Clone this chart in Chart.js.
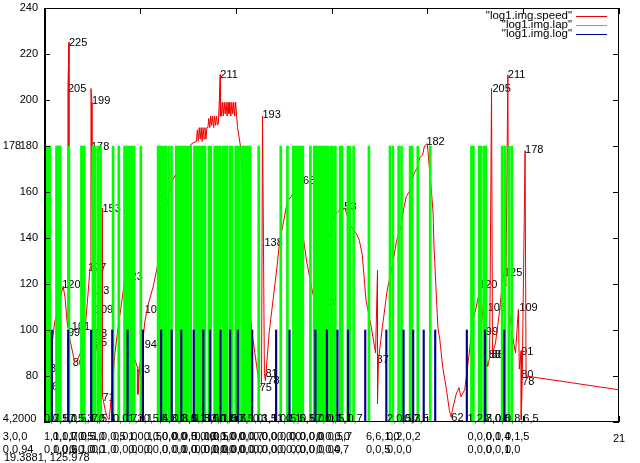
<!DOCTYPE html>
<html>
<head>
<meta charset="utf-8">
<script src="https://cdn.jsdelivr.net/npm/chart.js@4.4.1/dist/chart.umd.min.js"></script>
<style>
  html, body { margin: 0; padding: 0; background: #fff; }
  #wrap { width: 640px; height: 463px; }
</style>
</head>
<body>
<div id="wrap"><canvas id="chart" width="640" height="463"></canvas></div>
<script>
// ===== data =====
const seriesNames = ['"log1.img.speed"', '"log1.img.lap"', '"log1.img.log"'];

// speed trace (x, speed)
const speedX = [
  15.04, 15.07, 15.09, 15.11, 15.15, 15.17, 15.20, 15.22, 15.24, 15.25, 15.25, 15.26, 15.26, 15.27,
  15.30, 15.32, 15.35, 15.38, 15.43, 15.46, 15.48, 15.49, 15.50, 15.50, 15.51, 15.52, 15.53, 15.54,
  15.55, 15.58, 15.60, 15.61, 15.61, 15.64, 15.66, 15.68, 15.70, 15.72, 15.74, 15.77, 15.81, 15.84,
  15.88, 15.92, 15.95, 15.98, 15.98, 16.00, 16.02, 16.05, 16.08, 16.14, 16.18, 16.21, 16.26, 16.29,
  16.34, 16.40, 16.44, 16.49, 16.54,
  16.59, 16.60, 16.61, 16.62, 16.63, 16.64, 16.65, 16.66, 16.67, 16.68, 16.69, 16.70,
  16.71, 16.72, 16.73, 16.74, 16.75, 16.76, 16.77, 16.78, 16.79, 16.80, 16.81,
  16.82, 16.84, 16.84,
  16.85, 16.86, 16.87, 16.88, 16.89, 16.90, 16.91, 16.92, 16.93, 16.94, 16.95, 16.96, 16.97, 16.98,
  16.99, 17.00, 17.01,
  17.02, 17.05, 17.09, 17.13, 17.17, 17.22, 17.25, 17.27, 17.28, 17.29, 17.30, 17.31, 17.35, 17.39,
  17.43, 17.46, 17.49, 17.54, 17.58, 17.63, 17.67, 17.70, 17.74, 17.79, 17.82, 17.88, 17.91, 17.96,
  18.03, 18.08, 18.14, 18.19, 18.22, 18.26, 18.29, 18.32, 18.36, 18.42, 18.46, 18.48, 18.48, 18.49,
  18.53, 18.58, 18.64, 18.68, 18.73, 18.75, 18.78, 18.81, 18.83, 18.86, 18.90, 18.92, 18.95, 18.97,
  19.00, 19.02, 19.04, 19.06, 19.07, 19.11, 19.13, 19.16, 19.20, 19.23, 19.25, 19.26, 19.30, 19.33,
  19.35, 19.39, 19.42, 19.44, 19.47, 19.51, 19.54, 19.56, 19.57, 19.61, 19.63, 19.65, 19.67, 19.68,
  19.71, 19.75, 19.78, 19.80, 19.82, 19.84, 19.85, 19.89, 19.92, 19.95, 19.96, 19.98, 19.98, 19.99,
  20.02, 20.03, 21.00
];
const speedY = [
  78, 88, 96, 103, 110, 114, 119, 114, 104, 101, 205, 225, 100, 96,
  90, 86, 87, 90, 101, 116, 127, 205, 199, 178, 117, 109, 98, 95,
  92, 86, 72, 153, 71, 65, 62, 61, 70, 79, 90, 100, 112, 121,
  118, 97, 87, 83, 72, 85, 90, 103, 110, 119, 127, 136, 148, 156,
  165, 170, 173, 177, 181,
  182, 187, 182, 188, 183, 188, 182, 188, 183, 188, 183, 188,
  188, 192, 188, 193, 189, 193, 188, 193, 189, 193, 189,
  190, 211, 193,
  193, 199, 193, 199, 194, 199, 193, 199, 194, 199, 193, 199, 194, 199,
  193, 199, 193,
  188, 180, 150, 117, 99, 84, 75, 76, 193, 138, 81, 78, 99, 113,
  127, 139, 145, 156, 158, 163, 165, 142, 130, 119, 113, 119, 129, 138,
  150, 152, 153, 146, 144, 142, 139, 133, 113, 100, 90, 126, 68, 87,
  101, 117, 129, 139, 146, 152, 158, 160, 163, 168, 171, 175, 176, 180,
  181, 171, 162, 151, 136, 101, 96, 84, 74, 65, 62, 65, 72, 75,
  71, 74, 84, 91, 103, 110, 116, 117, 110, 90, 84, 88, 205, 90,
  94, 107, 119, 125, 119, 211, 110, 97, 90, 109, 83, 91, 61, 78,
  178, 80, 74
];

// value labels printed next to the speed trace
const speedTagX = [
  15.00, 15.02, 15.19, 15.26, 15.25, 15.25, 15.29, 15.30, 15.46, 15.50, 15.49, 15.50, 15.53, 15.53,
  15.53, 15.61, 15.61, 15.84, 15.98, 16.05, 16.05, 16.84, 17.28, 17.30, 17.25, 17.31, 17.33, 17.64,
  17.85, 18.07, 18.47, 18.99, 19.25, 19.54, 19.68, 19.63, 19.61, 19.64, 19.67, 19.80, 19.84, 19.96,
  19.98, 19.98, 19.99, 20.02, 14.57
];
const speedTagY = [
  83, 75.3, 119.6, 225, 205, 98.7, 101.3, 85.7, 127, 199.7, 179.5, 117, 108.7, 98.3,
  94.3, 152.6, 70.4, 123, 82.6, 93.5, 108.7, 211, 193.5, 138, 74.8, 81, 78, 165,
  111.7, 153.5, 87, 181.7, 61.7, 119.6, 205, 109.5, 99, 89, 89, 125, 211, 109.5,
  90.4, 80.4, 77.4, 178.3, 180
];
const speedTagText = [
  '73', '76', '120', '225', '205', '99', '101', '86', '127', '199', '178', '113', '109', '98',
  '95', '153', '71', '123', '83', '94', '103', '211', '193', '138', '75', '81', '78', '165',
  '113', '153', '87', '182', '62', '120', '205', '105', '99', '88', '88', '125', '211', '109',
  '91', '80', '78', '178', '178'
];

// lap marks (impulses up to lapValue)
const lapValue = 180;
const lapX = [
  15.01, 15.03, 15.05, 15.12, 15.13, 15.15, 15.16, 15.25, 15.38, 15.39, 15.41,
  15.50, 15.52, 15.55, 15.58, 15.71, 15.77,
  15.83, 15.85, 15.87, 15.89, 15.91, 15.93, 16.00,
  16.18, 16.20, 16.22, 16.24, 16.26, 16.29, 16.32,
  16.37, 16.39, 16.41, 16.43, 16.45, 16.47, 16.49, 16.52,
  16.56, 16.58, 16.60, 16.62, 16.64, 16.66, 16.67, 16.71, 16.73,
  16.77, 16.79, 16.81, 16.83, 16.86, 16.88, 16.90,
  16.93, 16.95, 16.99, 17.01, 17.03, 17.06, 17.08, 17.10, 17.12, 17.14,
  17.23, 17.46, 17.53,
  17.59, 17.61, 17.63, 17.65, 17.67, 17.69, 17.77,
  17.81, 17.83, 17.85, 17.87, 17.89, 17.91, 17.93, 17.95,
  17.98, 18.00, 18.03, 18.08, 18.10, 18.16, 18.18, 18.22, 18.38,
  18.60, 18.63, 18.69, 18.72, 18.81, 18.83, 18.89, 19.02,
  19.45, 19.47, 19.53, 19.55, 19.58, 19.60, 19.77, 19.80, 19.84, 19.87
];

// log marks (impulses up to logValue)
const logValue = 100;
const logX = [
  15.09, 15.26, 15.50, 15.72, 15.88, 16.04, 16.23, 16.34, 16.44, 16.57, 16.67, 16.74, 16.85, 16.95,
  17.03, 17.18, 17.43, 17.57, 17.84, 17.96, 18.07, 18.18, 18.36, 18.58, 18.76, 18.86, 18.97, 19.09,
  19.42, 19.61, 19.81
];

// text tags along the bottom edge (three rows)
const tagX = [
  14.57, 15.00, 15.09, 15.26, 15.38, 15.50, 15.72, 15.88, 16.04, 16.23, 16.34, 16.44, 16.57, 16.67,
  16.74, 16.85, 16.95, 17.03, 17.18, 17.27, 17.43, 17.57, 17.67, 17.84, 17.96, 18.07, 18.36, 18.58,
  18.76, 19.42, 19.61, 19.81
];
const tagRow1 = [
  '4,2000', '0,7,5,1', '0,1,0', '7,5,3', '5,1,0', '7,5,1', '0,0,7', '1,3,1', '0,5,4', '5,3,1',
  '0,3,0', '8,5,1', '1,3,0', '5,5,1', '3,0,0', '1,0,7', '5,5,1', '7,5,0', '0,1,1', '3,5,0',
  '1,0,1', '5,5,1', '0,5,0', '7,0,1', '0,1,1', '5,0,7', '', '2,0,5,3', '0,7,5', '1,2,8,0',
  '7,0,8', '0,8,6,5'
];
const tagRow2 = [
  '3,0,0', '1,1,0,7,0', '0,1,0', '1,0,5', '0,5,0', '1,0,0,5', '0,0,0', '1,0,1,5', '0,0,0,0', '0,0,0',
  '0,0,5', '0,0,0,0', '0,0,0', '1,0,5', '0,0,0', '1,0,0', '0,0,0', '0,0,7', '0,0,0', '0,0,0,0',
  '0,0,0', '0,0,0,0', '0,0,0', '0,0,0,0', '0,5,7', '', '6,6,1,0', '0,2,0,2', '', '0,0,0,0',
  '0,1,4', '0,1,5'
];
const tagRow3 = [
  '0,0,94', '0,0,0,6', '1,0,9', '0,0,0', '1,0,0', '0,1,0', '0,0,0', '0,0,0', '0,0,0', '0,0,0',
  '0,1,0', '0,0,0', '0,0,0', '0,0,0', '0,0,0', '0,0,0', '0,0,0', '0,0,0', '0,0,0', '0,0,0',
  '0,0,0', '0,0,0', '0,0,0', '0,0,0', '04,7', '', '0,0,5', '0,0,0', '', '0,0,0',
  '0,0,1', '0,0'
];

const yMin = 60, yMax = 240, xMin = 15, xMax = 21;
const mouseReadout = '19.3881, 125.978';

const RED = '#ee0000', GREEN = '#00ff00', BLUE = '#00008b';
const FONT = '11px "Liberation Sans"';

// ===== gnuplot style decorations =====
const gnuplotLook = {
  id: 'gnuplotLook',
  beforeDatasetsDraw(chart) {
    const { ctx, scales: { x, y } } = chart;
    ctx.save();
    ctx.font = FONT;
    ctx.fillStyle = '#000';
    ctx.textAlign = 'left';
    ctx.textBaseline = 'middle';
    speedTagText.forEach((t, i) => {
      ctx.fillText(t, x.getPixelForValue(speedTagX[i]), y.getPixelForValue(speedTagY[i]));
    });
    ctx.restore();
  },
  afterDatasetsDraw(chart) {
    const { ctx, scales: { x, y } } = chart;
    ctx.save();
    ctx.font = FONT;
    ctx.fillStyle = '#000';
    ctx.textAlign = 'left';
    ctx.textBaseline = 'middle';
    const rows = [[tagRow1, 61.5], [tagRow2, 53.7], [tagRow3, 48.0]];
    rows.forEach(([row, v]) => {
      const py = y.getPixelForValue(v);
      row.forEach((t, i) => {
        if (t) ctx.fillText(t, x.getPixelForValue(tagX[i]), py);
      });
    });
    ctx.fillText(mouseReadout, 4, 458);
    ctx.restore();
  },
  afterDraw(chart) {
    const { ctx, chartArea: a, scales: { x, y } } = chart;
    ctx.save();
    // border
    ctx.strokeStyle = '#000';
    ctx.lineWidth = 1;
    ctx.strokeRect(a.left + 0.5, a.top + 0.5, a.right - a.left - 1, a.bottom - a.top - 1);
    ctx.lineWidth = 2;
    ctx.beginPath();
    ctx.moveTo(a.left + 1, a.top);
    ctx.lineTo(a.left + 1, a.bottom);
    ctx.stroke();
    // inward ticks
    ctx.lineWidth = 1;
    ctx.beginPath();
    y.ticks.forEach(t => {
      const py = Math.round(y.getPixelForValue(t.value)) + 0.5;
      ctx.moveTo(a.left, py); ctx.lineTo(a.left + 6, py);
      ctx.moveTo(a.right - 6, py); ctx.lineTo(a.right, py);
    });
    x.ticks.forEach(t => {
      const px = Math.round(x.getPixelForValue(t.value)) + 0.5;
      ctx.moveTo(px, a.top); ctx.lineTo(px, a.top + 6);
      ctx.moveTo(px, a.bottom); ctx.lineTo(px, a.bottom - 6);
    });
    ctx.stroke();
    // key, top right
    const colors = [RED, GREEN, BLUE];
    ctx.font = '11.5px "Liberation Sans"';
    ctx.fillStyle = '#000';
    ctx.textAlign = 'right';
    ctx.textBaseline = 'middle';
    seriesNames.forEach((name, i) => {
      const ly = 16 + i * 9;
      ctx.fillText(name, 572, ly);
      ctx.strokeStyle = colors[i];
      ctx.beginPath();
      ctx.moveTo(576, ly + 0.5);
      ctx.lineTo(607, ly + 0.5);
      ctx.stroke();
    });
    ctx.restore();
  }
};

const ctx = document.getElementById('chart').getContext('2d');
new Chart(ctx, {
  type: 'bar',
  data: {
    datasets: [
      {
        type: 'line',
        label: seriesNames[0],
        data: speedX.map((x, i) => ({ x, y: speedY[i] })),
        borderColor: RED,
        borderWidth: 1,
        pointRadius: 0,
        tension: 0,
        order: 3
      },
      {
        type: 'bar',
        label: seriesNames[1],
        data: lapX.map(x => ({ x, y: [yMin, lapValue] })),
        backgroundColor: GREEN,
        barThickness: 2,
        order: 2
      },
      {
        type: 'bar',
        label: seriesNames[2],
        data: logX.map(x => ({ x, y: [yMin, logValue] })),
        backgroundColor: BLUE,
        barThickness: 1.5,
        order: 1
      }
    ]
  },
  options: {
    responsive: false,
    animation: false,
    devicePixelRatio: 1,
    events: [],
    layout: { padding: { top: 8, right: 21, left: 0, bottom: 0 } },
    plugins: {
      legend: { display: false },
      tooltip: { enabled: false }
    },
    scales: {
      x: {
        type: 'linear',
        min: xMin,
        max: xMax,
        offset: false,
        grid: { display: false, drawTicks: false },
        border: { display: false },
        ticks: {
          stepSize: 1,
          autoSkip: false,
          maxRotation: 0,
          padding: 10,
          color: '#000',
          font: { family: 'Liberation Sans', size: 11 },
          callback: v => (v === xMax ? String(v) : '')
        },
        afterFit: s => { s.height = 41; s.paddingLeft = 0; s.paddingRight = 0; }
      },
      y: {
        min: yMin,
        max: yMax,
        grid: { display: false, drawTicks: false },
        border: { display: false },
        ticks: {
          stepSize: 20,
          padding: 6,
          color: '#000',
          font: { family: 'Liberation Sans', size: 11 },
          callback: v => (v === yMin ? '' : String(v))
        },
        afterFit: s => { s.width = 44; s.paddingTop = 0; s.paddingBottom = 0; }
      }
    }
  },
  plugins: [gnuplotLook]
});
</script>
</body>
</html>
